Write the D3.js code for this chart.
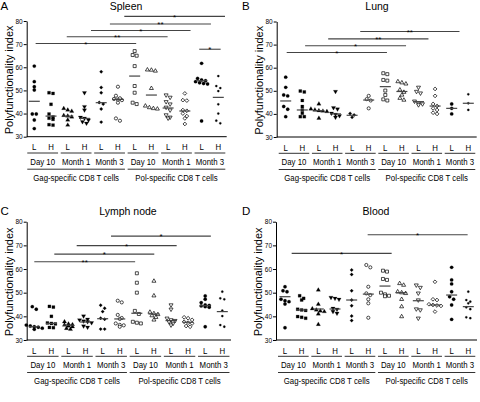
<!DOCTYPE html>
<html><head><meta charset="utf-8">
<script src="https://cdn.jsdelivr.net/npm/d3@7"></script>
<style>body{margin:0;background:#fff} svg{display:block} text{font-family:"Liberation Sans",Arial,Helvetica,sans-serif;fill:#000}</style>
</head><body><svg id="c" width="480" height="402"></svg>
<script>
// ---------- data ----------
const categories = ["L","H","L","H","L","H","L","H","L","H","L","H"];
const timepoints = ["Day 10","Month 1","Month 3","Day 10","Month 1","Month 3"];
const cellTypes = ["Gag-specific CD8 T cells","Pol-specific CD8 T cells"];
const yTicks = [30,40,50,60,70,80];
const panelLetters = ["A","B","C","D"];
const panelTitles = ["Spleen","Lung","Lymph node","Blood"];
const yLabel = "Polyfunctionality index";

const spleenValues = [
  [60.5,53.8,51.6,50.2,39.8,39.8,37.2,33.5],
  [49.0,48.7,44.0,39.8,38.5,38.0,37.5,35.2,35.0],
  [42.2,41.5,41.0,39.2,38.9,38.5,37.2,35.0],
  [49.0,43.0,41.5,38.4,38.0,37.2,36.5,35.8],
  [58.1,51.3,49.0,44.8,44.1,42.0,36.3],
  [51.6,47.7,46.6,46.3,46.0,45.8,44.7,37.9,36.9],
  [67.0,65.3,65.0,60.5,51.9,49.0,44.7,44.1],
  [58.9,58.8,58.4,50.9,43.3,42.6,42.2,42.0],
  [48.0,47.0,45.1,44.1,42.7,41.5,39.4,38.4,38.0],
  [48.7,45.8,45.6,41.5,41.2,40.0,38.9,37.9,35.5],
  [61.7,55.2,54.5,54.2,53.8,53.3,53.0,52.8,36.8],
  [56.2,51.9,51.0,49.7,44.0,40.0,36.9,35.8]
];
const spleenMedians = [45.3,38.9,38.9,37.9,44.7,46.1,56.2,48.0,42.4,41.1,54.2,47.0];
const spleenBars = [[0.08,6.09,70.3,"*"],[1.94,7.97,73.2,"**"],[3.39,9.34,75.9,"*"],[4.52,10.56,78.7,"**"],[5.38,11.4,82.0,"*"],[9.86,11.14,67.8,"*"]];

const lungValues = [
  [55.9,51.5,48.2,47.8,43.2,42.0,38.8],
  [49.9,49.5,45.8,43.2,41.7,40.3,38.8,38.8],
  [44.3,42.1,41.7,41.4,41.2,41.0,38.1],
  [49.7,42.7,42.1,40.3,39.8,39.2,38.5],
  [40.2,39.5,38.5],
  [47.8,46.4,45.8,42.4],
  [57.6,57.2,54.7,54.4,50.1,48.2,46.3,45.8],
  [54.0,53.5,53.0,50.4,49.4,48.2,46.8,46.0],
  [51.5,49.7,49.0,45.5,44.6,44.3,43.9],
  [50.8,47.8,44.3,43.4,42.4,41.7,40.5,40.0],
  [44.3,42.4,40.0],
  [48.5,44.6,41.7]
];
const lungMedians = [45.6,41.7,41.4,40.0,39.4,46.0,51.8,49.7,45.3,43.4,42.4,44.6];
const lungBars = [[0.06,6.1,66.6,"*"],[1.17,7.25,69.5,"*"],[2.56,8.6,72.5,"**"],[4.49,10.47,75.7,"**"]];

const lymphValues = [
  [44.1,43.0,36.3,35.9,35.6,35.4,35.0,34.5],
  [44.2,43.9,40.0,37.2,37.0,36.8,35.3,35.2],
  [37.7,36.8,36.5,36.3,35.9,35.6,34.9,34.5],
  [40.1,38.8,38.5,38.0,37.7,37.3,35.9,35.4],
  [44.7,43.4,42.0,39.2,38.8,34.6,34.6],
  [46.6,45.9,40.6,39.3,38.9,37.0,36.4,36.2,35.6],
  [58.2,54.2,50.0,42.3,41.0,37.7,37.3,37.0],
  [54.9,48.7,41.8,41.2,40.8,40.3,39.6,38.5],
  [44.8,43.0,39.2,38.5,38.2,37.7,37.0,36.3],
  [39.6,39.2,38.5,37.7,37.3,37.0,35.9,35.6],
  [48.6,47.2,45.8,44.8,44.6,44.4,44.1,43.8,35.6],
  [50.4,47.6,47.2,42.4,40.1,36.3,35.6]
];
const lymphMedians = [35.6,37.0,36.3,37.6,39.0,38.9,41.3,41.0,38.2,37.5,44.5,42.0];
const lymphBars = [[0,5.9,63.1,"**"],[1.17,7.02,66.3,"*"],[2.48,8.33,69.9,"*"],[4.49,10.33,73.9,"*"]];

const bloodValues = [
  [52.5,50.8,50.4,47.2,46.6,46.2,45.2,35.2],
  [48.7,47.6,46.9,43.0,42.7,42.5,39.9,39.6,39.2],
  [51.1,45.1,43.2,42.7,42.3,42.0,41.0,36.6],
  [48.0,47.6,47.2,43.4,43.0,42.0,41.3],
  [59.6,57.7,50.8,46.9,44.5,40.1,38.2],
  [61.7,60.7,52.5,49.7,49.0,47.2,45.5,39.4],
  [59.3,58.9,55.8,55.4,50.0,49.3,48.7,48.5],
  [53.9,53.2,50.4,50.0,49.7,47.2,44.1,39.9],
  [53.2,52.2,49.8,46.9,43.1,42.7,39.2],
  [54.6,47.2,46.9,45.1,44.8,44.6,44.4,42.0],
  [60.7,55.4,53.7,50.4,48.3,47.2,44.8,38.7],
  [50.4,46.9,46.2,45.5,43.8,43.0,39.6,39.2]
];
const bloodMedians = [48.3,42.7,43.1,43.1,46.9,49.4,52.8,50.0,46.6,44.8,49.0,44.1];
const bloodBars = [[0.4,6.4,66.6,"*"],[4.96,10.96,74.5,"*"]];

// ---------- styles / layout ----------
const markerShape = ["circle","square","triangle","triangleDown","diamond","circle","square","triangle","triangleDown","diamond","circle","circle"];
const markerFilled = [true,true,true,true,true,false,false,false,false,false,true,true];
const markerSize = [9,9,8,8,6,8,9,7,7,7,9,4];

const layouts = [
  {left:26.7,right:226.7,first:34.3,last:218.3,top:21,bottom:136.7,lx:0.5,ly:10,tx:126,ty:10},
  {left:276.7,right:476.7,first:285.7,last:468.3,top:21.5,bottom:137,lx:242,ly:10,tx:377,ty:10},
  {left:26.7,right:231,first:34.3,last:222.3,top:221.7,bottom:340,lx:0.5,ly:215,tx:128,ty:215},
  {left:276,right:477,first:285,last:468.3,top:221.7,bottom:340,lx:242,ly:215,tx:376,ty:215}
];
const panelValues = [spleenValues,lungValues,lymphValues,bloodValues];
const panelMedians = [spleenMedians,lungMedians,lymphMedians,bloodMedians];
const panelBars = [spleenBars,lungBars,lymphBars,bloodBars];

const svg = d3.select("#c");
const FS = 9.8, SX = 0.8;

function txt(g, x, y, s, size, sx, anchor){
  return g.append("text")
    .attr("transform", `translate(${x},${y}) scale(${sx},1)`)
    .attr("text-anchor", anchor || "middle")
    .attr("font-size", size).text(s);
}

function symbolPath(i){
  const t = markerShape[i];
  let type = d3.symbolCircle;
  if (t === "square" || t === "diamond") type = d3.symbolSquare;
  if (t === "triangle" || t === "triangleDown") type = d3.symbolTriangle;
  return d3.symbol().type(type).size(markerSize[i])();
}
function symbolRot(i){
  const t = markerShape[i];
  return t === "diamond" ? 45 : (t === "triangleDown" ? 180 : 0);
}

function swarm(vals, y){
  const pts = vals.map(v => ({v, py: y(v)})).sort((a,b) => a.py - b.py);
  const rows = []; let cur = null;
  for (const p of pts){
    if (cur && p.py - cur[0].py < 3.2) cur.push(p);
    else { cur = [p]; rows.push(cur); }
  }
  rows.forEach(r => r.forEach((p,j) => p.dx = (j - (r.length-1)/2) * 4.0));
  return pts;
}

layouts.forEach((L, pi) => {
  const g = svg.append("g");
  const x = d3.scaleLinear().domain([0, 11]).range([L.first, L.last]);
  const y = d3.scaleLinear().domain([30, 80]).range([L.bottom, L.top]);
  const sp = (L.last - L.first) / 11;

  g.append("text").attr("x", L.lx).attr("y", L.ly).attr("font-size", 11.5).text(panelLetters[pi]);
  g.append("text").attr("x", L.tx).attr("y", L.ty).attr("text-anchor","middle").attr("font-size", 10.5).text(panelTitles[pi]);

  const ya = g.append("g").attr("transform", `translate(${L.left},0)`)
    .call(d3.axisLeft(y).tickValues(yTicks).tickSize(3).tickSizeOuter(0).tickPadding(1));
  ya.select(".domain").attr("stroke", "#000").attr("stroke-width", 1);
  ya.selectAll(".tick line").attr("stroke", "#000");
  ya.selectAll("text").attr("font-size", 6.5).attr("font-family", "Liberation Sans, Arial, sans-serif");

  g.append("text").attr("transform", `translate(${L.left - 14},${(L.top + L.bottom)/2 + 1}) rotate(-90)`)
    .attr("text-anchor","middle").attr("font-size", 11).text(yLabel);

  g.append("line").attr("x1", L.left).attr("x2", L.right).attr("y1", L.bottom).attr("y2", L.bottom)
    .attr("stroke", "#000").attr("stroke-width", 1);

  categories.forEach((c, i) => txt(g, x(i), L.bottom + 13.5, c, FS, SX));
  timepoints.forEach((t, k) => {
    const cx = (x(2*k) + x(2*k+1)) / 2, hw = sp * 0.92;
    g.append("line").attr("x1", cx - hw).attr("x2", cx + hw)
      .attr("y1", L.bottom + 16.3).attr("y2", L.bottom + 16.3).attr("stroke", "#333").attr("stroke-width", 1);
    txt(g, cx, L.bottom + 28, t, FS, SX);
  });
  cellTypes.forEach((t, k) => {
    const a = (x(6*k) + x(6*k+1)) / 2 - sp*0.92, b = (x(6*k+4) + x(6*k+5)) / 2 + sp*0.92;
    g.append("line").attr("x1", a).attr("x2", b)
      .attr("y1", L.bottom + 32.5).attr("y2", L.bottom + 32.5).attr("stroke", "#333").attr("stroke-width", 1);
    txt(g, (a + b) / 2, L.bottom + 44, t, FS, SX);
  });

  panelBars[pi].forEach(b => {
    const yy = y(b[2]);
    g.append("line").attr("x1", x(b[0])).attr("x2", x(b[1])).attr("y1", yy).attr("y2", yy)
      .attr("stroke", "#444").attr("stroke-width", 1.1);
    g.append("text").attr("x", (x(b[0]) + x(b[1])) / 2).attr("y", yy + 3.2)
      .attr("text-anchor","middle").attr("font-size", 8).attr("fill","#333").text(b[3]);
  });

  panelValues[pi].forEach((vals, i) => {
    const pts = swarm(vals, y);
    g.selectAll(null).data(pts).join("path")
      .attr("d", symbolPath(i))
      .attr("transform", p => `translate(${x(i) + p.dx},${p.py}) rotate(${symbolRot(i)})`)
      .attr("fill", markerFilled[i] ? "#000" : "#fff")
      .attr("stroke", "#000").attr("stroke-width", markerFilled[i] ? 0.2 : 0.7);
  });

  panelMedians[pi].forEach((m, i) => {
    g.append("line").attr("x1", x(i) - 5.5).attr("x2", x(i) + 5.5).attr("y1", y(m)).attr("y2", y(m))
      .attr("stroke", "#444").attr("stroke-width", 1.2);
  });
});
</script></body></html>
